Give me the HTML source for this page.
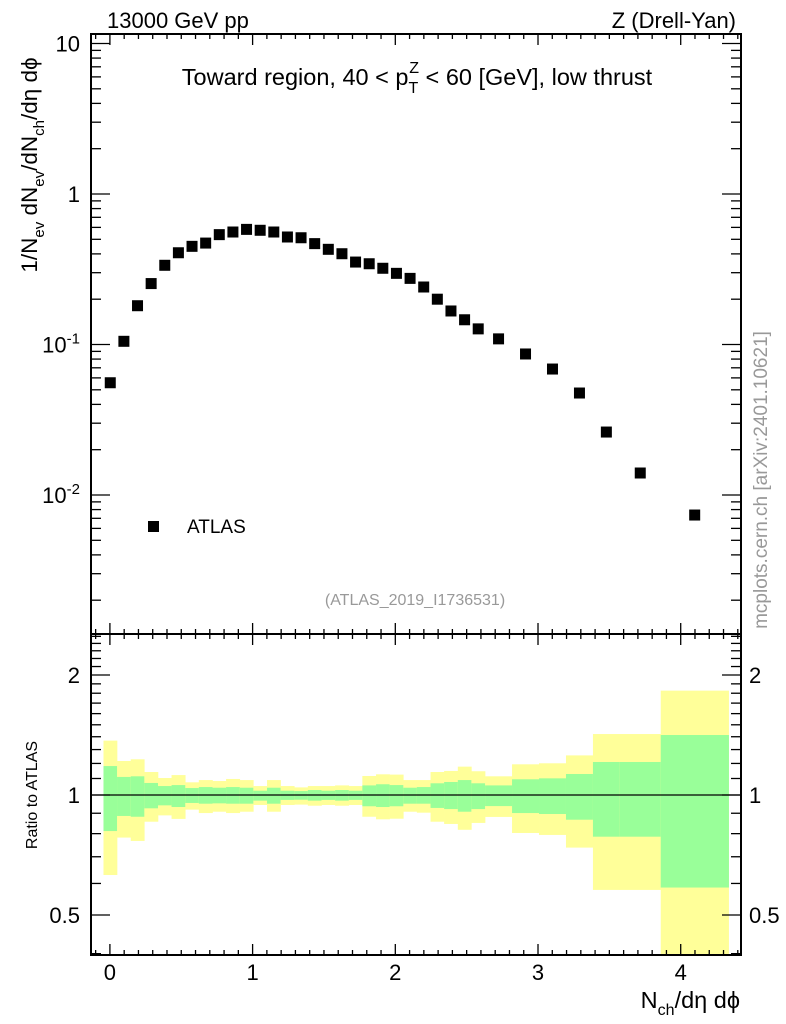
<!DOCTYPE html>
<html><head><meta charset="utf-8"><style>
html,body{margin:0;padding:0;background:#fff;}
svg{display:block;font-family:"Liberation Sans",sans-serif;}
</style></head><body>
<svg id="c" width="786" height="1024" viewBox="0 0 786 1024"></svg>
<script>
// bin edges (x units)
const binEdges = [-0.045,0.050,0.146,0.241,0.337,0.432,0.528,0.623,0.719,0.814,0.910,1.005,1.101,1.196,1.292,1.387,1.483,1.578,1.674,1.769,1.865,1.960,2.056,2.151,2.247,2.342,2.438,2.533,2.629,2.818,3.007,3.196,3.385,3.573,3.860,4.336];
// ATLAS data values
const atlasValues = [0.0557,0.105,0.181,0.254,0.336,0.407,0.449,0.472,0.537,0.559,0.582,0.574,0.559,0.518,0.512,0.468,0.429,0.401,0.353,0.344,0.321,0.297,0.275,0.241,0.200,0.167,0.146,0.127,0.109,0.0865,0.0687,0.0476,0.0262,0.0140,0.00736];
// ratio bands
const yellowUp = [1.369,1.217,1.229,1.142,1.103,1.122,1.076,1.090,1.084,1.097,1.090,1.053,1.090,1.053,1.045,1.053,1.053,1.057,1.053,1.116,1.127,1.125,1.090,1.090,1.142,1.149,1.178,1.147,1.114,1.194,1.201,1.257,1.422,1.422,1.827];
const greenUp  = [1.182,1.110,1.114,1.072,1.053,1.059,1.041,1.047,1.043,1.047,1.043,1.025,1.043,1.025,1.023,1.029,1.025,1.029,1.025,1.057,1.064,1.059,1.043,1.047,1.070,1.078,1.090,1.070,1.057,1.095,1.101,1.129,1.210,1.210,1.414];
const greenDn  = [0.812,0.886,0.882,0.926,0.942,0.933,0.955,0.951,0.953,0.951,0.951,0.968,0.951,0.972,0.973,0.968,0.972,0.968,0.972,0.937,0.933,0.937,0.951,0.951,0.928,0.922,0.908,0.922,0.938,0.901,0.896,0.867,0.786,0.786,0.586];
const yellowDn = [0.630,0.782,0.767,0.857,0.889,0.871,0.919,0.901,0.908,0.901,0.908,0.944,0.908,0.944,0.946,0.940,0.944,0.940,0.944,0.882,0.869,0.872,0.908,0.903,0.857,0.846,0.818,0.851,0.881,0.803,0.794,0.738,0.578,0.578,0.35];
const xTicks = [0,1,2,3,4];
const mainYTicks = [10,1,0.1,0.01];
const mainYLabels = ["10","1","10<sup>-1</sup>","10<sup>-2</sup>"];
const ratioTicks = [2,1,0.5];
const ratioLabels = ["2","1","0.5"];

const L=91,R=741,T=34,M=634,B=955;
const X0=-0.1325, X1=4.4225;
function sx(v){return L+(v-X0)/(X1-X0)*(R-L);}
function sy(v){return 194-Math.log10(v)*150.5;}
function ry(v){return 795-Math.log10(v)*398.7;}
const svg=document.getElementById('c');
const NS='http://www.w3.org/2000/svg';
function el(t,a,p){const e=document.createElementNS(NS,t);for(const k in a)e.setAttribute(k,a[k]);(p||svg).appendChild(e);return e;}
function txt(x,y,s,o){const e=el('text',Object.assign({x:x,y:y,'font-size':22,fill:'#000'},o||{}));e.textContent=s;return e;}

const bands=el('g',{});


for(let i=0;i<yellowUp.length;i++){
  const x0=sx(binEdges[i]),x1=sx(binEdges[i+1]);
  const clip=v=>Math.min(B,Math.max(M,v));
  const y=el('rect',{x:x0,y:clip(ry(yellowUp[i])),width:x1-x0+0.3,height:clip(ry(yellowDn[i]))-clip(ry(yellowUp[i])),fill:'#ffff99'},bands);
  
  
  const g=el('rect',{x:x0,y:clip(ry(greenUp[i])),width:x1-x0+0.3,height:clip(ry(greenDn[i]))-clip(ry(greenUp[i])),fill:'#99ff99'},bands);
  
  
}
const one=el('line',{x1:L,x2:R,y1:ry(1),y2:ry(1),stroke:'#000','stroke-width':1.3});



for(let i=0;i<atlasValues.length;i++){
  const cx=sx((binEdges[i]+binEdges[i+1])/2),cy=sy(atlasValues[i]);
  const p=el('rect',{x:cx-5.5,y:cy-5.5,width:11,height:11,fill:'#000'});
  
  
}

const fr=el('g',{fill:'none',stroke:'#000','stroke-width':2});


el('rect',{x:L,y:T,width:R-L,height:M-T},fr);
el('rect',{x:L,y:M,width:R-L,height:B-M},fr);
const tk=el('g',{stroke:'#000','stroke-width':1.3});


for(let k=-1;k<=44;k++){
  const v=k/10;if(v<X0||v>X1)continue;
  const x=sx(v),len=(k%10===0)?11:5;
  [T,M].forEach(y=>el('line',{x1:x,x2:x,y1:y,y2:y+len},tk));
  [M,B].forEach(y=>el('line',{x1:x,x2:x,y1:y,y2:y-len},tk));
}
for(let d=-3;d<=1;d++){for(let m=1;m<=9;m++){
  const v=m*Math.pow(10,d);const y=sy(v);if(y<T||y>M)continue;
  const len=m===1?19:10;
  el('line',{x1:L,x2:L+len,y1:y,y2:y},tk);el('line',{x1:R,x2:R-len,y1:y,y2:y},tk);
}}
[0.4,0.5,0.6,0.7,0.8,0.9,1,1.1,1.2,1.3,1.4,1.5,1.6,1.7,1.8,1.9,2,2.1,2.2,2.3,2.4,2.5].forEach(v=>{
  const y=ry(v);if(y<M||y>B)return;
  const major=(v===0.5||v===1||v===2);const len=major?19:10;
  el('line',{x1:L,x2:L+len,y1:y,y2:y},tk);el('line',{x1:R,x2:R-len,y1:y,y2:y},tk);
});

xTicks.forEach(v=>{const t=txt(sx(v),980,String(v),{'text-anchor':'middle'});});
mainYTicks.forEach((v,i)=>{
  const y=sy(v)+8;
  const t=el('text',{x:80,y:y,'font-size':22,'text-anchor':'end'});
  
  
  const lab=mainYLabels[i];
  if(lab.indexOf('<sup>')>=0){
    const parts=lab.split('<sup>');const ex=parts[1].replace('</sup>','');
    const a=el('tspan',{},t);a.textContent=parts[0];
    const b=el('tspan',{dy:-9,'font-size':15},t);b.textContent=ex;
  } else t.textContent=lab;
});
ratioTicks.forEach((v,i)=>{
  const y=ry(v)+8;
  const a=txt(80,y,ratioLabels[i],{'text-anchor':'end'});
  const b=txt(749,y,ratioLabels[i]);
});
</script>
<svg width="786" height="1024" style="position:absolute;left:0;top:0;font-family:'Liberation Sans','DejaVu Sans',sans-serif">
<text x="107" y="28" font-size="22">13000 GeV pp</text>
<text x="736" y="28" font-size="22" text-anchor="end">Z (Drell-Yan)</text>
<text x="417" y="85" font-size="23.5" text-anchor="middle">Toward region, 40 &lt; p<tspan dy="8" font-size="16">T</tspan><tspan dx="-9" dy="-20" font-size="16">Z</tspan><tspan dy="12"> &lt; 60 [GeV], low thrust</tspan></text>
<rect x="148" y="521" width="11" height="11" fill="#000"/>
<text x="187" y="533" font-size="19">ATLAS</text>
<text x="415" y="605" font-size="16" fill="#999" text-anchor="middle">(ATLAS_2019_I1736531)</text>
<text transform="translate(767,480) rotate(-90)" font-size="19" fill="#999" text-anchor="middle">mcplots.cern.ch [arXiv:2401.10621]</text>
<text transform="translate(37,165) rotate(-90)" font-size="22.5" text-anchor="middle">1/N<tspan dy="7" font-size="15">ev</tspan><tspan dy="-7"> dN</tspan><tspan dy="7" font-size="15">ev</tspan><tspan dy="-7">/dN</tspan><tspan dy="7" font-size="15">ch</tspan><tspan dy="-7">/dη dϕ</tspan></text>
<text transform="translate(37,795) rotate(-90)" font-size="16" text-anchor="middle">Ratio to ATLAS</text>
<text x="740" y="1008" font-size="23.5" text-anchor="end">N<tspan dy="7" font-size="16">ch</tspan><tspan dy="-7">/dη dϕ</tspan></text>
</svg>
</body></html>
